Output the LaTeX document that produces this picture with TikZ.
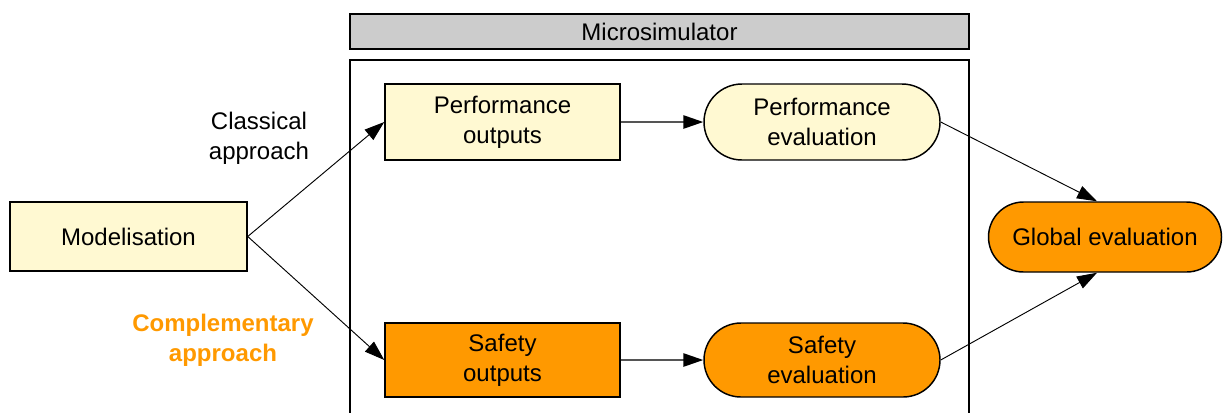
\documentclass[tikz,border=0pt]{standalone}
\usepackage{fontspec}
\setmainfont{Liberation Sans}
\usetikzlibrary{arrows.meta,shapes.misc}
\definecolor{lightyel}{HTML}{FFF9D2}
\definecolor{orng}{HTML}{FF9900}
\definecolor{bargray}{HTML}{CCCCCC}
\definecolor{linegray}{HTML}{555555}
\tikzset{
  box/.style={draw=black, line width=1.1pt, rectangle, align=center, inner sep=0pt},
  pill/.style={draw=black, line width=1.1pt, rounded rectangle, align=center, inner sep=0pt},
  yel/.style={fill=lightyel},
  org/.style={fill=orng},
  txt/.style={font=\fontsize{18}{22.5}\selectfont},
  diag/.style={draw=black, line width=0.7pt, -{Triangle[length=15pt,width=10pt]}},
  horiz/.style={draw=linegray, line width=1.3pt, -{Triangle[length=15pt,width=10pt,color=black]}},
}
\begin{document}
\begin{tikzpicture}[x=0.75pt,y=-0.75pt, txt]
\useasboundingbox (0,0) rectangle (1223,412);
% container
\coordinate (cbl) at (350,415);
\coordinate (ctl) at (350,60);
\coordinate (ctr) at (969,60);
\coordinate (cbr) at (969,415);
\draw[line width=1.1pt] (cbl) -- (ctl) -- (ctr) -- (cbr);
\node[box, fill=bargray, minimum width=619*0.75pt, minimum height=35*0.75pt] (bar) at (659.5,31.5) {Microsimulator};

\node[box, yel, minimum width=237*0.75pt, minimum height=69*0.75pt] (mod) at (128.5,236.5) {Modelisation};
\node[box, yel, minimum width=235*0.75pt, minimum height=76*0.75pt] (po) at (502.5,122) {Performance\\outputs};
\node[box, org, minimum width=235*0.75pt, minimum height=74*0.75pt] (so) at (502.5,360) {Safety\\outputs};
\node[pill, yel, minimum width=236*0.75pt, minimum height=76*0.75pt] (pe) at (822,122) {Performance\\evaluation};
\node[pill, org, minimum width=236*0.75pt, minimum height=74*0.75pt] (se) at (822,360) {Safety\\evaluation};
\node[pill, org, minimum width=233*0.75pt, minimum height=70*0.75pt] (ge) at (1105,237) {Global evaluation};

\node[align=center, inner sep=0pt] (cl) at (259,138) {Classical\\approach};
\node[align=center, inner sep=0pt, text=orng, font=\fontsize{18}{22.5}\selectfont\bfseries] (cp) at (223,340) {Complementary\\approach};

\draw[diag] (mod.east) -- (po.west);
\draw[diag] (mod.east) -- (so.west);
\draw[horiz] (po.east) -- (pe.west);
\draw[horiz] (so.east) -- (se.west);
\draw[diag] (pe.east) -- ([xshift=-6pt]ge.north);
\draw[diag] (se.east) -- ([xshift=-6pt]ge.south);
\end{tikzpicture}
\end{document}
